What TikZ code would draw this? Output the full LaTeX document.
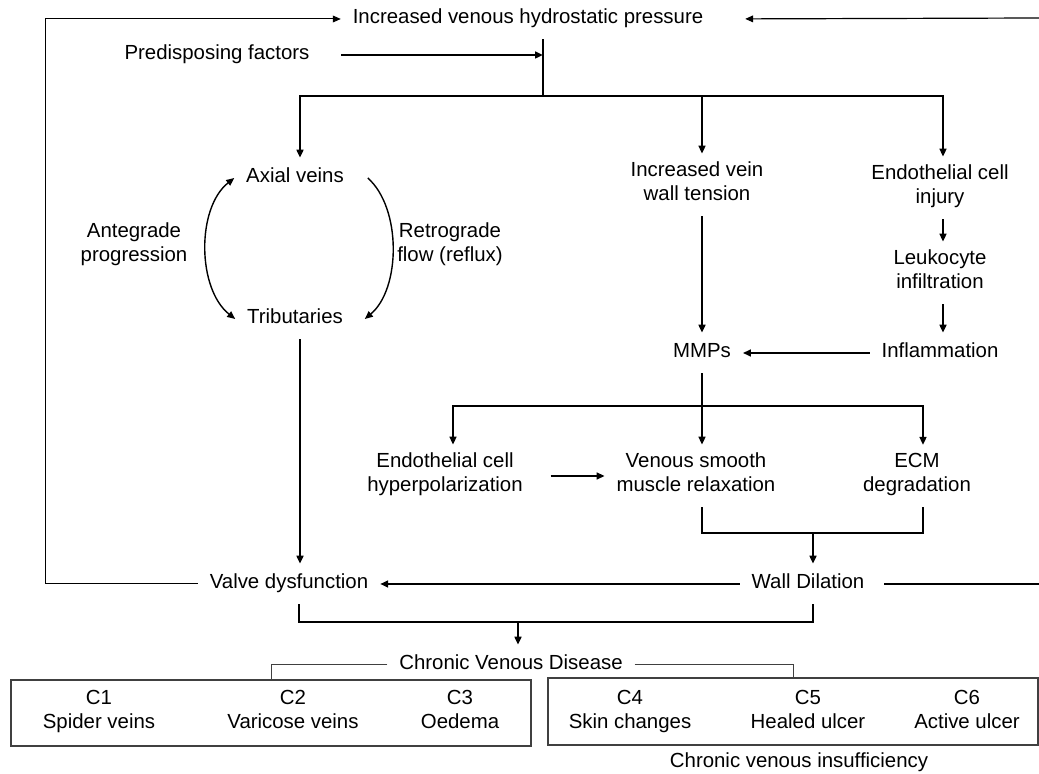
\documentclass[tikz,border=0pt]{standalone}
\usepackage{fontspec}
\setmainfont{Liberation Sans}
\usetikzlibrary{arrows.meta, positioning}

\tikzset{
  txt/.style={align=center, inner xsep=6pt, inner ysep=4pt, outer sep=0pt,
    execute at begin node=\strut, execute at end node=\strut},
  arr/.style={->, line width=1pt},
  ln/.style={line width=1pt},
  thinarr/.style={->, line width=0.5pt},
  thinln/.style={line width=0.5pt, draw=black!75},
  curv/.style={line width=0.7pt},
  cbox/.style={draw=black!75, line width=0.6pt, inner sep=0pt},
}

\begin{document}
\begin{tikzpicture}[x=0.5pt, y=-0.5pt, font=\fontsize{10.2}{12.25}\selectfont,
    >={Triangle[length=4pt,width=3.4pt]}]
\useasboundingbox (0,0) rectangle (1039,774);

\node[txt] (ivhp) at (528,19) {Increased venous hydrostatic pressure};
\node[txt] (pred) at (217,55) {Predisposing factors};
\node[txt] (axial) at (295,178) {Axial veins};
\node[txt] (trib) at (295,319) {Tributaries};
\node[txt] (ante) at (134,246) {Antegrade\\progression};
\node[txt] (retro) at (450,246) {Retrograde\\flow (reflux)};
\node[txt] (ivwt) at (697,185) {Increased vein\\wall tension};
\node[txt] (eci) at (940,188) {Endothelial cell\\injury};
\node[txt] (leuk) at (940,273) {Leukocyte\\infiltration};
\node[txt] (infl) at (940,353) {Inflammation};
\node[txt] (mmp) at (702,353) {MMPs};
\node[txt] (echp) at (445,476) {Endothelial cell\\hyperpolarization};
\node[txt] (vsmr) at (696,476) {Venous smooth\\muscle relaxation};
\node[txt] (ecm) at (917,476) {ECM\\degradation};
\node[txt] (valve) at (289,584) {Valve dysfunction};
\node[txt] (wall) at (808,584) {Wall Dilation};
\node[txt] (cvd) at (511,665) {Chronic Venous Disease};

\node[cbox, minimum width=260pt, minimum height=33pt] (box1) at (271,713) {};
\node[cbox, minimum width=245pt, minimum height=33.5pt] (box2) at (793,711.5) {};
\node[txt] (c1) at (99,713) {C1\\Spider veins};
\node[txt] (c2) at (293,713) {C2\\Varicose veins};
\node[txt] (c3) at (460,713) {C3\\Oedema};
\node[txt] (c4) at (630,713) {C4\\Skin changes};
\node[txt] (c5) at (808,713) {C5\\Healed ulcer};
\node[txt] (c6) at (967,713) {C6\\Active ulcer};
\node[txt] (cvi) at (799,763) {Chronic venous insufficiency};

\coordinate (lx) at (45,0);
\coordinate (rtop) at (1039,18);
\coordinate (rmid) at (1039,584);
\coordinate (hub) at (543,96);
\coordinate (hub2) at (702,406);
\coordinate (hub3) at (813,533);
\coordinate (hub4) at (518,622);

\draw[thinarr] (valve.west) -| (lx |- ivhp.west) -- (ivhp.west);
\draw[arr, line width=0.6pt, shorten >=15pt] (rtop) -- (ivhp.east);
\draw[ln] (ivhp.south -| hub) -- (hub);
\draw[arr, shorten <=10pt] (pred.east) -- (pred.east -| hub);
\draw[arr] (hub) -| ([xshift=2.5pt]axial.north);
\draw[arr] (hub) -| ([xshift=2.5pt]ivwt.north);
\draw[arr] (hub) -| ([xshift=1.5pt]eci.north);

\draw[curv, <->] (axial.west) .. controls +(-38,30) and +(-38,-30) .. (trib.west);
\draw[curv, ->] ([xshift=6pt]axial.east) .. controls +(34,30) and +(36,-30) .. ([xshift=5pt]trib.east);

\draw[arr] ([xshift=2.5pt]trib.south) -- ([xshift=2.5pt]trib.south |- valve.north);
\draw[arr] ([xshift=2.5pt]ivwt.south) -- (mmp.north);
\draw[arr] ([xshift=1.5pt]eci.south) -- ([xshift=1.5pt]leuk.north);
\draw[arr] ([xshift=1.5pt]leuk.south) -- ([xshift=1.5pt]infl.north);
\draw[arr] (infl.west) -- (mmp.east);

\draw[ln] (mmp.south) -- (hub2);
\draw[arr] (hub2) -| ([xshift=4pt]echp.north);
\draw[arr] (hub2) -- (vsmr.north -| hub2);
\draw[arr] (hub2) -| ([xshift=3pt]ecm.north);
\draw[arr, shorten <=8pt] (echp.east) -- (vsmr.west);
\draw[ln] (vsmr.south -| hub2) |- (hub3) -| ([xshift=3pt]ecm.south);
\draw[arr] (hub3) -- (wall.north -| hub3);

\draw[arr] (wall.west) -- (valve.east);
\draw[ln, shorten <=4pt] (wall.east) -- (rmid);
\draw[ln] ([xshift=5pt]valve.south) |- (hub4) -| ([xshift=2.5pt]wall.south);
\draw[arr] (hub4) -- (cvd.north -| hub4);
\draw[thinln] (cvd.west) -| (box1.north);
\draw[thinln] (cvd.east) -| (box2.north);

\end{tikzpicture}
\end{document}
